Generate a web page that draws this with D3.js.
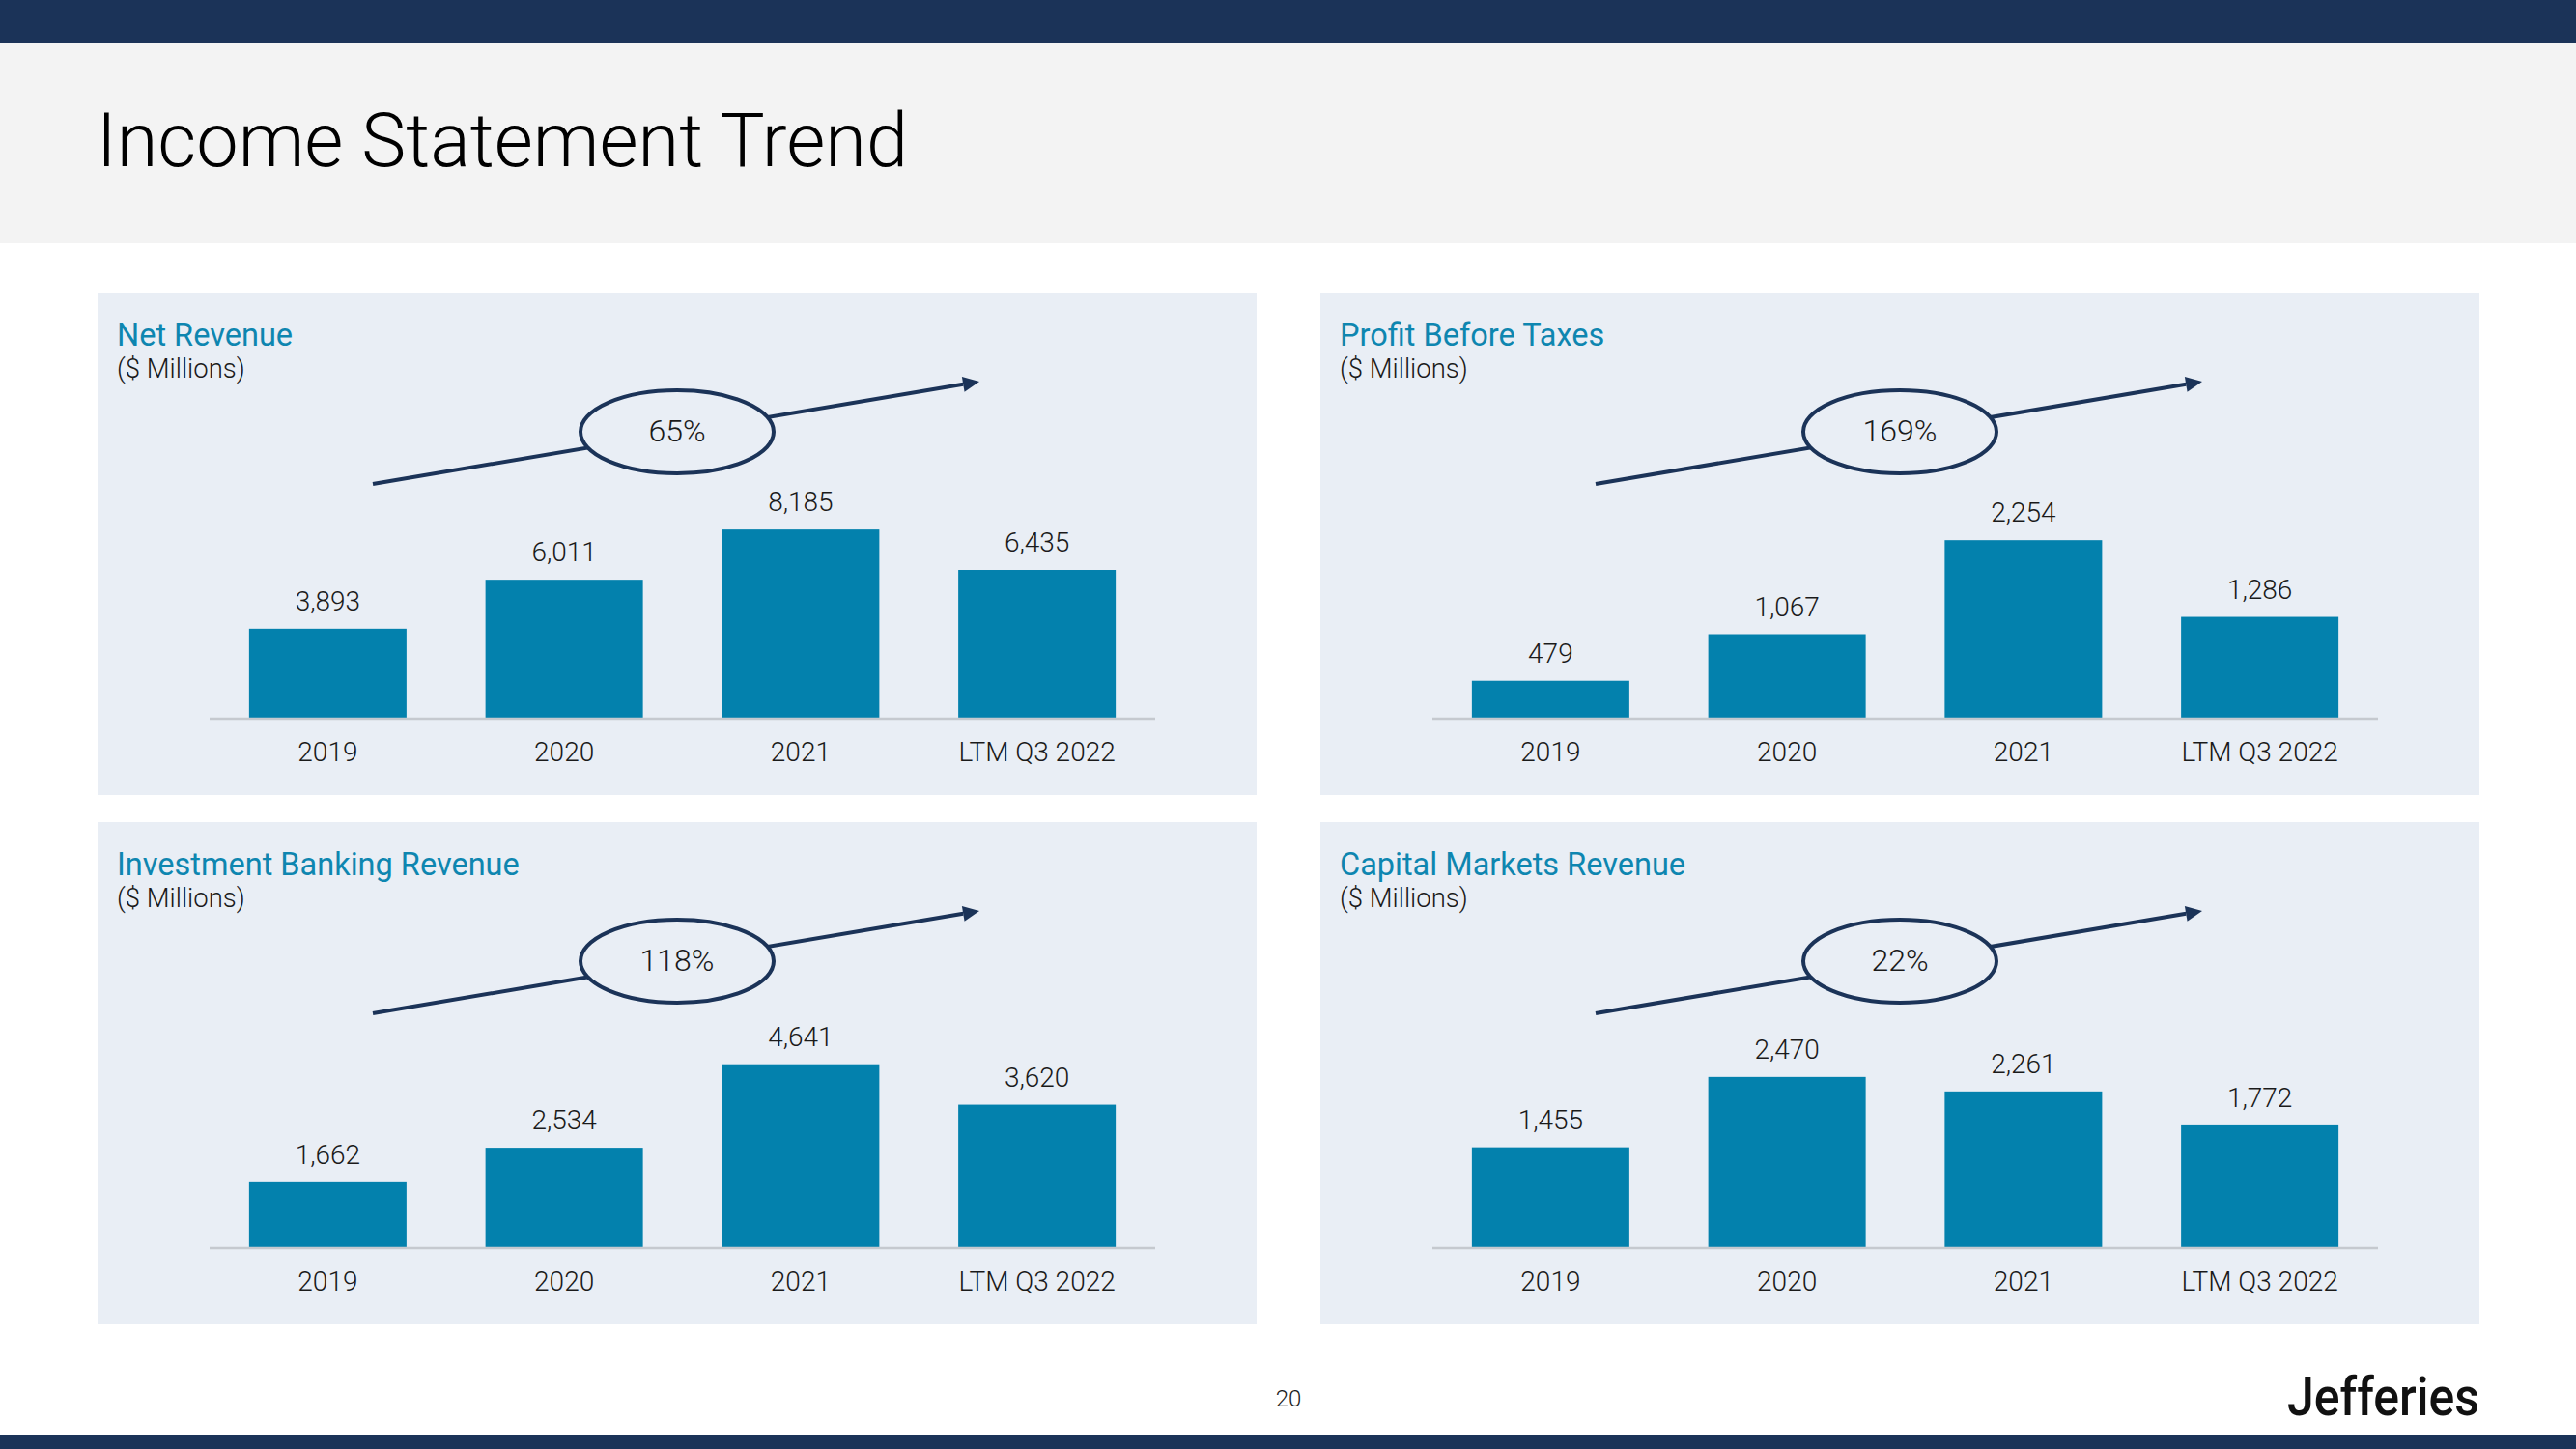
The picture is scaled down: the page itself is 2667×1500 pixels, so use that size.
<!DOCTYPE html>
<html>
<head>
<meta charset="utf-8">
<script src="https://cdn.jsdelivr.net/npm/d3@7"></script>
<style>
    html, body { margin: 0; padding: 0; background: #ffffff; }
    svg { display: block; font-family: Roboto, "Noto Sans", sans-serif; }
</style>
</head>
<body>
<svg id="slide" width="2667" height="1500"></svg>
<script>
const categories = ["2019", "2020", "2021", "LTM Q3 2022"];

const netRevenue = [3893, 6011, 8185, 6435];
const profitBeforeTaxes = [479, 1067, 2254, 1286];
const investmentBankingRevenue = [1662, 2534, 4641, 3620];
const capitalMarketsRevenue = [1455, 2470, 2261, 1772];

const panelTitles = ["Net Revenue", "Profit Before Taxes", "Investment Banking Revenue", "Capital Markets Revenue"];
const growthLabels = ["65%", "169%", "118%", "22%"];
// hidden value-axis maxima of each chart
const axisMax = [10280, 3000, 6000, 3430];

const COLORS = {
    navy: "#1b3358",
    header: "#f3f3f3",
    panel: "#e9eef5",
    bar: "#0381ad",
    title: "#0e86b0",
    text: "#1a1a1a",
    axis: "#c5c9cf"
};

class BarPanel {
    constructor(svg, x, y, w, h) {
        this.g = svg.append("g").attr("transform", `translate(${x},${y})`);
        this.w = w;
        this.h = h;
        this.baseY = 441;
        this.xScale = d3.scaleBand()
            .domain(categories)
            .range([116, 1095])
            .paddingInner(0.334)
            .paddingOuter(0.167);
    }

    draw(title, values, growth, maxValue) {
        const g = this.g;
        const y = d3.scaleLinear().domain([0, maxValue]).range([this.baseY, this.baseY - 246]);

        g.append("rect")
            .attr("width", this.w)
            .attr("height", this.h)
            .attr("fill", COLORS.panel);

        g.append("text")
            .attr("x", 20).attr("y", 55)
            .attr("font-size", 32.5)
            .attr("fill", COLORS.title)
            .text(title);

        g.append("text")
            .attr("x", 20).attr("y", 88)
            .attr("font-size", 27.5)
            .attr("font-weight", 300)
            .attr("fill", COLORS.text)
            .text("($ Millions)");

        // Growth arrow with ellipse badge
        this.drawGrowth(growth);

        // Bars
        g.selectAll(".bar")
            .data(values)
            .enter()
            .append("rect")
            .attr("class", "bar")
            .attr("x", (d, i) => this.xScale(categories[i]))
            .attr("y", d => y(d))
            .attr("width", this.xScale.bandwidth())
            .attr("height", d => this.baseY - y(d))
            .attr("fill", COLORS.bar);

        g.selectAll(".value-label")
            .data(values)
            .enter()
            .append("text")
            .attr("class", "value-label")
            .attr("x", (d, i) => this.xScale(categories[i]) + this.xScale.bandwidth() / 2)
            .attr("y", d => y(d) - 19)
            .attr("text-anchor", "middle")
            .attr("font-size", 28)
            .attr("font-weight", 300)
            .attr("fill", COLORS.text)
            .text(d => d3.format(",")(d));

        // Category axis
        const axis = g.append("g")
            .attr("transform", `translate(0,${this.baseY})`)
            .call(d3.axisBottom(this.xScale).tickSize(0).tickPadding(0));
        axis.select(".domain")
            .attr("d", `M${this.xScale.range()[0]},0H${this.xScale.range()[1]}`)
            .attr("stroke", COLORS.axis)
            .attr("stroke-width", 2.5);
        axis.selectAll("text")
            .attr("y", 44)
            .attr("dy", null)
            .attr("font-family", "Roboto, sans-serif")
            .attr("font-size", 28)
            .attr("font-weight", 300)
            .attr("fill", COLORS.text);
    }

    drawGrowth(growth) {
        const g = this.g;
        const start = [285, 198];
        const end = [913, 92];
        const cx = 600, cy = 144;

        const ang = Math.atan2(end[1] - start[1], end[0] - start[0]);
        const headLen = 17, headHalf = 8;
        const bx = end[0] - headLen * Math.cos(ang);
        const by = end[1] - headLen * Math.sin(ang);

        g.append("line")
            .attr("x1", start[0]).attr("y1", start[1])
            .attr("x2", bx).attr("y2", by)
            .attr("stroke", COLORS.navy)
            .attr("stroke-width", 4);

        g.append("path")
            .attr("d", d3.line()([
                end,
                [bx + headHalf * Math.sin(ang), by - headHalf * Math.cos(ang)],
                [bx - headHalf * Math.sin(ang), by + headHalf * Math.cos(ang)]
            ]) + "Z")
            .attr("fill", COLORS.navy);

        g.append("ellipse")
            .attr("cx", cx).attr("cy", cy)
            .attr("rx", 100).attr("ry", 43)
            .attr("fill", COLORS.panel)
            .attr("stroke", COLORS.navy)
            .attr("stroke-width", 4);

        g.append("text")
            .attr("x", cx).attr("y", cy + 10)
            .attr("text-anchor", "middle")
            .attr("font-size", 32)
            .attr("font-weight", 300)
            .attr("fill", COLORS.text)
            .text(growth);
    }
}

const svg = d3.select("#slide");

// Slide frame
svg.append("rect").attr("width", 2667).attr("height", 1500).attr("fill", "#ffffff");
svg.append("rect").attr("width", 2667).attr("height", 44).attr("fill", COLORS.navy);
svg.append("rect").attr("y", 44).attr("width", 2667).attr("height", 208).attr("fill", COLORS.header);
svg.append("rect").attr("y", 1486).attr("width", 2667).attr("height", 14).attr("fill", COLORS.navy);

svg.append("text")
    .attr("x", 100).attr("y", 172)
    .attr("font-size", 78)
    .attr("font-weight", 300)
    .attr("textLength", 840)
    .attr("lengthAdjust", "spacingAndGlyphs")
    .attr("fill", "#000000")
    .text("Income Statement Trend");

svg.append("text")
    .attr("x", 1334).attr("y", 1456)
    .attr("text-anchor", "middle")
    .attr("font-size", 24)
    .attr("font-weight", 300)
    .attr("fill", COLORS.text)
    .text("20");

svg.append("text")
    .attr("x", 2368).attr("y", 1465)
    .attr("font-size", 55)
    .attr("font-weight", 500)
    .attr("textLength", 199)
    .attr("lengthAdjust", "spacingAndGlyphs")
    .attr("fill", "#111111")
    .text("Jefferies");

const panelData = [netRevenue, profitBeforeTaxes, investmentBankingRevenue, capitalMarketsRevenue];
const panelPos = [[101, 303], [1367, 303], [101, 851], [1367, 851]];

panelData.forEach((values, i) => {
    const panel = new BarPanel(svg, panelPos[i][0], panelPos[i][1], 1200, 520);
    panel.draw(panelTitles[i], values, growthLabels[i], axisMax[i]);
});
</script>
</body>
</html>
